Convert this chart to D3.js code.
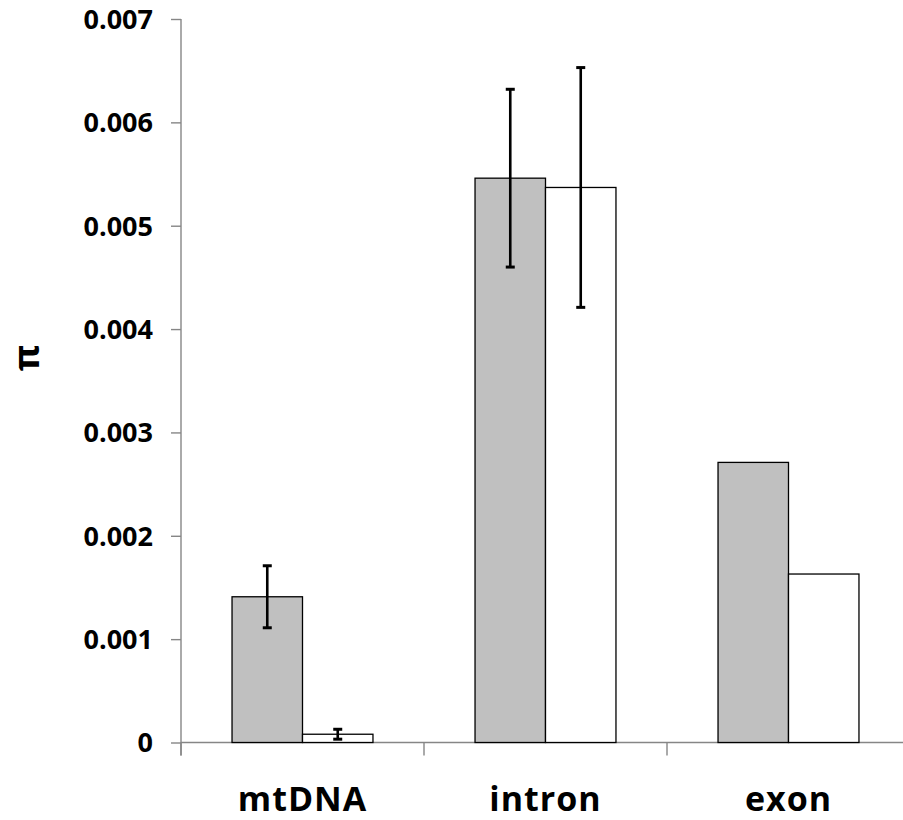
<!DOCTYPE html>
<html>
<head>
<meta charset="utf-8">
<script src="https://cdn.jsdelivr.net/npm/d3@7"></script>
<style>
  body { margin: 0; background: #fff; }
  text { font-family: "Open Sans", "DejaVu Sans", sans-serif; font-weight: bold; fill: #000; }
  .axis path, .axis line { stroke: #868686; stroke-width: 1.4; }
  .bar { stroke: #000; stroke-width: 1.3; }
  .err { stroke: #000; }
</style>
</head>
<body>
<svg width="903" height="820"></svg>
<script>
const margin = {top: 19, right: -7, bottom: 77.5, left: 181};

const svg = d3.select("svg");
const width = +svg.attr("width") - margin.left - margin.right;
const height = +svg.attr("height") - margin.top - margin.bottom;

// data
const categories = ["mtDNA", "intron", "exon"];
const series = ["gray", "white"];
const grayValues = [0.00141, 0.00546, 0.00271];
const grayErrors = [0.00030, 0.00086, null];
const whiteValues = [0.00008, 0.00537, 0.00163];
const whiteErrors = [0.000048, 0.00116, null];
const yTicks = [0, 0.001, 0.002, 0.003, 0.004, 0.005, 0.006, 0.007];

const colors = {gray: "#c0c0c0", white: "#ffffff"};

const rows = categories.map((c, i) => ({
  category: c,
  values: [
    {key: "gray", value: grayValues[i], err: grayErrors[i]},
    {key: "white", value: whiteValues[i], err: whiteErrors[i]}
  ]
}));

const vis = svg.append("g")
  .attr("transform", `translate(${margin.left},${margin.top})`);

const x0 = d3.scaleBand()
  .domain(categories)
  .range([0, width])
  .paddingInner(0.42)
  .paddingOuter(0.21);

const x1 = d3.scaleBand()
  .domain(series)
  .range([0, x0.bandwidth()]);

const y = d3.scaleLinear()
  .domain([0, 0.007])
  .range([height, 0]);

// y axis
const yAxis = vis.append("g")
  .attr("class", "axis y")
  .call(d3.axisLeft(y).tickValues(yTicks).tickSize(10).tickPadding(18)
    .tickFormat(d => d === 0 ? "0" : d3.format(".3f")(d)));
yAxis.select(".domain").attr("d", `M0,0V${height + 13}`);
yAxis.selectAll("text").style("font-size", "27px").attr("dy", "0.35em");

// x axis: ticks at category boundaries
const bounds = d3.range(categories.length + 1).map(i => i * x0.step());
const xAxis = vis.append("g")
  .attr("class", "axis x")
  .attr("transform", `translate(0,${height})`);
xAxis.append("path").attr("d", `M0,0H${width}`);
xAxis.selectAll("line")
  .data(bounds)
  .enter()
  .append("line")
  .attr("x1", d => d).attr("x2", d => d)
  .attr("y1", 0).attr("y2", 13);

// bars
const groups = vis.selectAll("g.group")
  .data(rows)
  .enter()
  .append("g")
  .attr("class", "group")
  .attr("transform", d => `translate(${x0(d.category)},0)`);

groups.selectAll("rect")
  .data(d => d.values)
  .enter()
  .append("rect")
  .attr("class", "bar")
  .attr("x", d => x1(d.key))
  .attr("y", d => y(d.value))
  .attr("width", x1.bandwidth())
  .attr("height", d => height - y(d.value))
  .attr("fill", d => colors[d.key]);

// error bars
const errs = groups.selectAll("g.err")
  .data(d => d.values.filter(v => v.err != null))
  .enter()
  .append("g")
  .attr("class", "err")
  .attr("transform", d => `translate(${x1(d.key) + x1.bandwidth() / 2},0)`);

errs.append("line")
  .attr("y1", d => y(d.value + d.err))
  .attr("y2", d => y(d.value - d.err))
  .attr("stroke-width", 2.6);
errs.selectAll("line.cap")
  .data(d => [d.value + d.err, d.value - d.err])
  .enter()
  .append("line")
  .attr("class", "cap")
  .attr("x1", -4.5).attr("x2", 4.5)
  .attr("y1", d => y(d)).attr("y2", d => y(d))
  .attr("stroke-width", 3);

// category labels
vis.append("g")
  .selectAll("text")
  .data(categories)
  .enter()
  .append("text")
  .attr("x", d => x0(d) + x0.bandwidth() / 2)
  .attr("y", height + 68)
  .attr("text-anchor", "middle")
  .style("font-size", "34px")
  .style("letter-spacing", "1px")
  .text(d => d);

// y axis title
svg.append("text")
  .attr("transform", "translate(39,358) rotate(-90)")
  .attr("text-anchor", "middle")
  .style("font-size", "36px")
  .text("π");
</script>
</body>
</html>
